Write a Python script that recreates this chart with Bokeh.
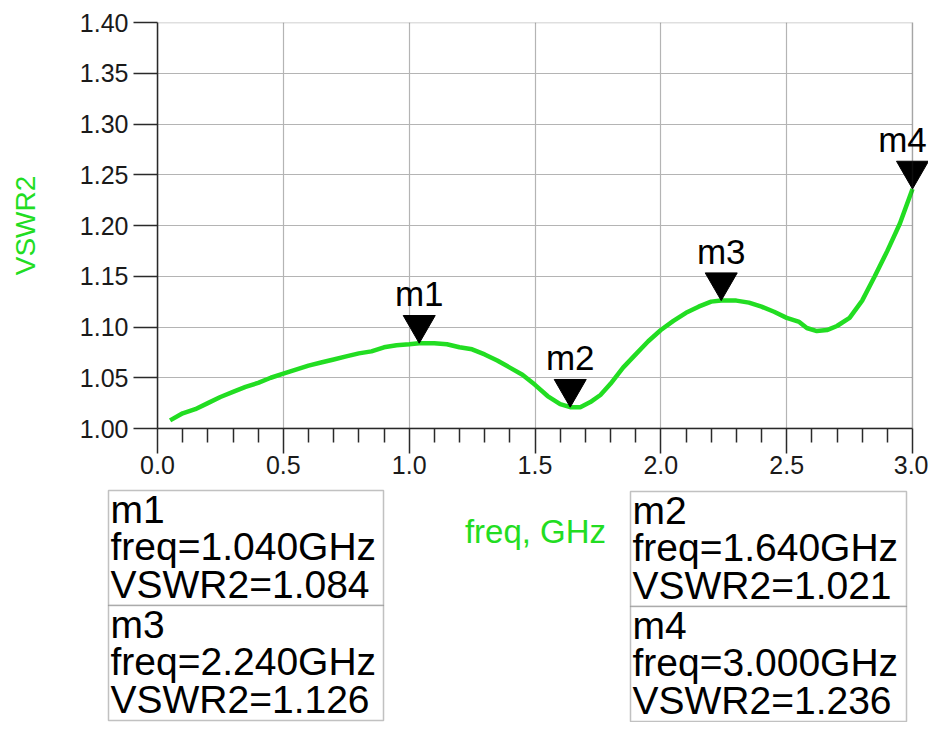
import numpy as np
from bokeh.plotting import figure
from bokeh.models import (Range1d, FixedTicker, PrintfTickFormatter, Label,
                          LabelSet, ColumnDataSource, BoxAnnotation)
from bokeh.core.properties import value
from bokeh.embed import file_html
from bokeh.resources import INLINE

# ---- data -------------------------------------------------------------
freq = [0.05, 0.10, 0.15, 0.20, 0.25, 0.30, 0.35, 0.40, 0.45, 0.50,
        0.55, 0.60, 0.65, 0.70, 0.75, 0.80, 0.85, 0.90, 0.95, 1.00,
        1.04, 1.10, 1.15, 1.20, 1.25, 1.30, 1.35, 1.40, 1.45, 1.50,
        1.55, 1.60, 1.64, 1.68, 1.72, 1.76, 1.80, 1.85, 1.90, 1.95,
        2.00, 2.05, 2.10, 2.15, 2.20, 2.24, 2.30, 2.35, 2.40, 2.45,
        2.50, 2.55, 2.58, 2.62, 2.66, 2.70, 2.75, 2.80, 2.85, 2.90,
        2.95, 3.00]
vswr2 = [1.008, 1.015, 1.019, 1.025, 1.031, 1.036, 1.041, 1.045, 1.050, 1.054,
         1.058, 1.062, 1.065, 1.068, 1.071, 1.074, 1.076, 1.080, 1.082, 1.083,
         1.084, 1.084, 1.083, 1.080, 1.078, 1.073, 1.067, 1.060, 1.053, 1.043,
         1.032, 1.024, 1.021, 1.021, 1.026, 1.033, 1.044, 1.060, 1.073, 1.086,
         1.097, 1.106, 1.114, 1.120, 1.125, 1.126, 1.126, 1.124, 1.120, 1.115,
         1.109, 1.105, 1.099, 1.096, 1.097, 1.101, 1.109, 1.126, 1.150, 1.175,
         1.202, 1.236]

marker_names = ["m1", "m2", "m3", "m4"]
marker_freq = [1.040, 1.640, 2.240, 3.000]
marker_vswr = [1.084, 1.021, 1.126, 1.236]

x_major = [0.0, 0.5, 1.0, 1.5, 2.0, 2.5, 3.0]
y_major = [1.00, 1.05, 1.10, 1.15, 1.20, 1.25, 1.30, 1.35, 1.40]
X0, X1 = 0.0, 3.0
Y0, Y1 = 1.0, 1.4

# ---- layout constants (pixels) ----------------------------------------
GREEN = "#22dd22"
DARK = "#2a2a2a"
FONT = "Liberation Sans"
W, H = 928, 722
H1 = 485                      # height of the chart figure
FR_L, FR_T, FR_B = 157, 22, 428   # frame left / top / bottom
X_END_PX = 912                # pixel where freq = 3.0 falls
ppx = (X_END_PX - FR_L) / (X1 - X0)
x_view_end = X0 + (W - FR_L) / ppx   # frame runs to the canvas edge

p = figure(width=W, height=H1, output_backend="svg", toolbar_location=None,
           x_range=Range1d(X0, x_view_end), y_range=Range1d(Y0, Y1),
           min_border_left=FR_L, min_border_right=0,
           min_border_top=FR_T, min_border_bottom=H1 - FR_B)
p.outline_line_color = None
p.background_fill_color = "white"
p.border_fill_color = "white"

minor = [round(v, 1) for v in np.arange(0.1, 3.0, 0.1) if round(v * 10) % 5 != 0]
p.xaxis.ticker = FixedTicker(ticks=x_major, minor_ticks=minor)
p.yaxis.ticker = FixedTicker(ticks=y_major)
p.xaxis.formatter = PrintfTickFormatter(format="%.1f")
p.yaxis.formatter = PrintfTickFormatter(format="%.2f")
p.xaxis.bounds = (X0, X1)

for ax in (p.xaxis[0], p.yaxis[0]):
    ax.axis_line_color = DARK
    ax.axis_line_width = 1.5
    ax.major_tick_line_color = DARK
    ax.major_tick_line_width = 1.5
    ax.minor_tick_line_color = DARK
    ax.minor_tick_line_width = 1.5
    ax.major_tick_in = 0
    ax.minor_tick_in = 0
    ax.major_label_text_font = FONT
    ax.major_label_text_font_size = "25px"
    ax.major_label_text_color = "#1a1a1a"
    ax.axis_label_text_font = FONT
    ax.axis_label_text_font_style = "normal"
    ax.axis_label_text_color = GREEN

p.xaxis.major_tick_out = 25
p.xaxis.minor_tick_out = 14
p.xaxis.major_label_standoff = 2

p.yaxis.major_tick_out = 24
p.yaxis.minor_tick_out = 0
p.yaxis.major_label_standoff = 5
p.yaxis.axis_label = "VSWR2"
p.yaxis.axis_label_text_font_size = "28px"
p.yaxis.axis_label_standoff = 36

p.grid.grid_line_color = "#b4b4b4"
p.grid.grid_line_width = 1.2
p.grid.level = "image"
p.xgrid.ticker = FixedTicker(ticks=x_major)
p.ygrid.ticker = FixedTicker(ticks=y_major)

# hide grid beyond 3.0 GHz, and draw the plot border at the data limits
p.add_layout(BoxAnnotation(left=X1, fill_color="white", fill_alpha=1.0,
                           line_color=None, level="underlay"))
p.add_layout(BoxAnnotation(left=X0, right=X1, bottom=Y0, top=Y1,
                           fill_alpha=0.0, line_color=DARK, line_width=1.5,
                           level="annotation"))

# curve
p.line(freq, vswr2, line_color=GREEN, line_width=4.5)

# markers: inverted triangles whose tip sits on the data point
TRI = 32
px_per_unit = (FR_B - FR_T) / (Y1 - Y0)
tip = (TRI / 2) * np.sqrt(3) * 2 / 3
tri_y = [v + tip / px_per_unit for v in marker_vswr]
p.scatter(marker_freq, tri_y, marker="inverted_triangle", size=TRI,
          fill_color="black", line_color="black")

lab_dx = [0, 0, 0, -10]
msrc = ColumnDataSource(dict(x=marker_freq, y=marker_vswr, name=marker_names, dx=lab_dx))
p.add_layout(LabelSet(x="x", y="y", text="name", source=msrc, y_offset=37,
                      x_offset="dx",
                      text_align="center", text_baseline="alphabetic",
                      text_font=value(FONT), text_font_size=value("35px"),
                      text_color="black", level="overlay"))

# ---- lower panel: x-axis title and marker readout boxes ----------------
H2 = H - H1
q = figure(width=W, height=H2, output_backend="svg", toolbar_location=None,
           x_range=Range1d(0, W), y_range=Range1d(0, H2),
           x_axis_location=None, y_axis_location=None,
           min_border=0, min_border_left=0, min_border_right=0,
           min_border_top=0, min_border_bottom=0)
q.outline_line_color = None
q.grid.visible = False
q.background_fill_color = "white"
q.border_fill_color = "white"


def qy(page_y):
    return H - page_y


def mid_from_baseline(baseline_y, size):
    # vertical centre of a text line whose baseline lies at baseline_y
    return baseline_y - 0.34 * size


XL_SIZE = 33
q.add_layout(Label(x=535, y=qy(mid_from_baseline(542, XL_SIZE)), text="freq, GHz",
                   text_align="center", text_baseline="middle", text_font=FONT,
                   text_font_size=f"{XL_SIZE}px", text_color=GREEN))

# box geometry (page pixels): left, right, top of box
BOX_H = 115
PITCH = 37.5
TXT = 39
box_geom = {"m1": (108, 383, 490), "m3": (108, 383, 490 + BOX_H),
            "m2": (630, 906, 491), "m4": (630, 906, 491 + BOX_H)}
for name, f, v in zip(marker_names, marker_freq, marker_vswr):
    left, right, top = box_geom[name]
    q.add_layout(BoxAnnotation(left=left, right=right, top=qy(top),
                               bottom=qy(top + BOX_H), fill_color="white",
                               fill_alpha=1.0, line_color="#333333",
                               line_width=1.5))
    lines = [name, f"freq={f:.3f}GHz", f"VSWR2={v:.3f}"]
    for i, t in enumerate(lines):
        base = top + 32 + i * PITCH
        q.add_layout(Label(x=left + 2, y=qy(mid_from_baseline(base, TXT)), text=t,
                           text_align="left", text_baseline="middle",
                           text_font=FONT, text_font_size=f"{TXT}px",
                           text_color="black"))

open("out.html", "w").write(file_html([p, q], INLINE))
